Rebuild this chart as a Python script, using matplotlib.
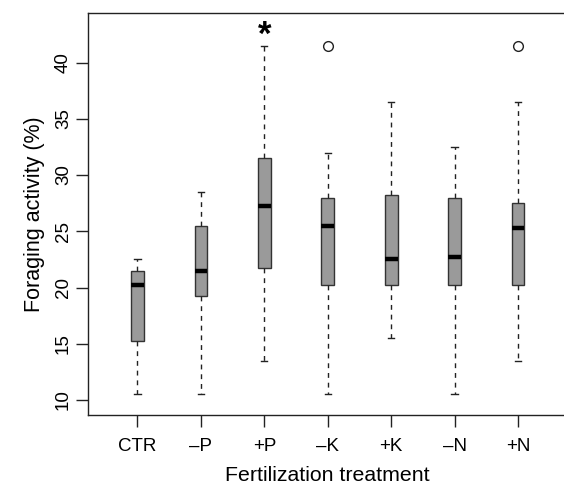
import matplotlib
matplotlib.use("Agg")
import matplotlib.pyplot as plt

plt.rcParams['font.family'] = ['Liberation Sans', 'DejaVu Sans']

categories = ["CTR", "\u2013P", "+P", "\u2013K", "+K", "\u2013N", "+N"]
whisk_lo = [10.5, 10.5, 13.5, 10.5, 15.5, 10.5, 13.5]
q1       = [15.25, 19.25, 21.75, 20.25, 20.25, 20.25, 20.25]
median   = [20.25, 21.5, 27.25, 25.5, 22.5, 22.75, 25.25]
q3       = [21.5, 25.5, 31.5, 28.0, 28.25, 28.0, 27.5]
whisk_hi = [22.5, 28.5, 41.5, 32.0, 36.5, 32.5, 36.5]
outliers = [[], [], [], [41.5], [], [], [41.5]]
yticks = [10, 15, 20, 25, 30, 35, 40]

fig = plt.figure(figsize=(5.64, 4.84), dpi=100)
ax = fig.add_axes([88/564, 69/484, 479.5/564, 402/484])

stats = []
for i, c in enumerate(categories):
    stats.append(dict(label=c, whislo=whisk_lo[i], q1=q1[i], med=median[i],
                      q3=q3[i], whishi=whisk_hi[i], fliers=outliers[i]))

pos = list(range(1, len(categories) + 1))
ax.bxp(stats, positions=pos, widths=0.2, patch_artist=True,
       boxprops=dict(facecolor='#9a9a9a', edgecolor='#333333', linewidth=1.0),
       medianprops=dict(color='black', linewidth=3.2, solid_capstyle='butt'),
       whiskerprops=dict(color='#222222', linewidth=1.0, linestyle=(0, (3.5, 3.5))),
       capprops=dict(color='#222222', linewidth=1.0),
       capwidths=0.1,
       flierprops=dict(marker='o', markerfacecolor='none', markeredgecolor='#222222',
                       markersize=7, markeredgewidth=1.0))

ax.text(3, 42.4, "*", ha='center', va='center', fontsize=25, fontweight='bold')

ax.set_xlim(0.22, 7.78)
ax.set_ylim(8.67, 44.4)
ax.set_yticks(yticks)
ax.set_yticklabels([str(t) for t in yticks], rotation=90, va='center')
ax.set_xticks(pos)
ax.set_xticklabels(categories)

for s in ax.spines.values():
    s.set_color('#222222')
    s.set_linewidth(1.0)

ax.tick_params(axis='both', length=8.6, width=1.0, color='#222222', labelsize=13.5)
ax.tick_params(axis='x', pad=8)
ax.tick_params(axis='y', pad=3)
ax.set_ylabel("Foraging activity (%)", fontsize=15.5, labelpad=7)
ax.set_xlabel("Fertilization treatment", fontsize=15.3, labelpad=8)

fig.savefig("out.png", dpi=100)
